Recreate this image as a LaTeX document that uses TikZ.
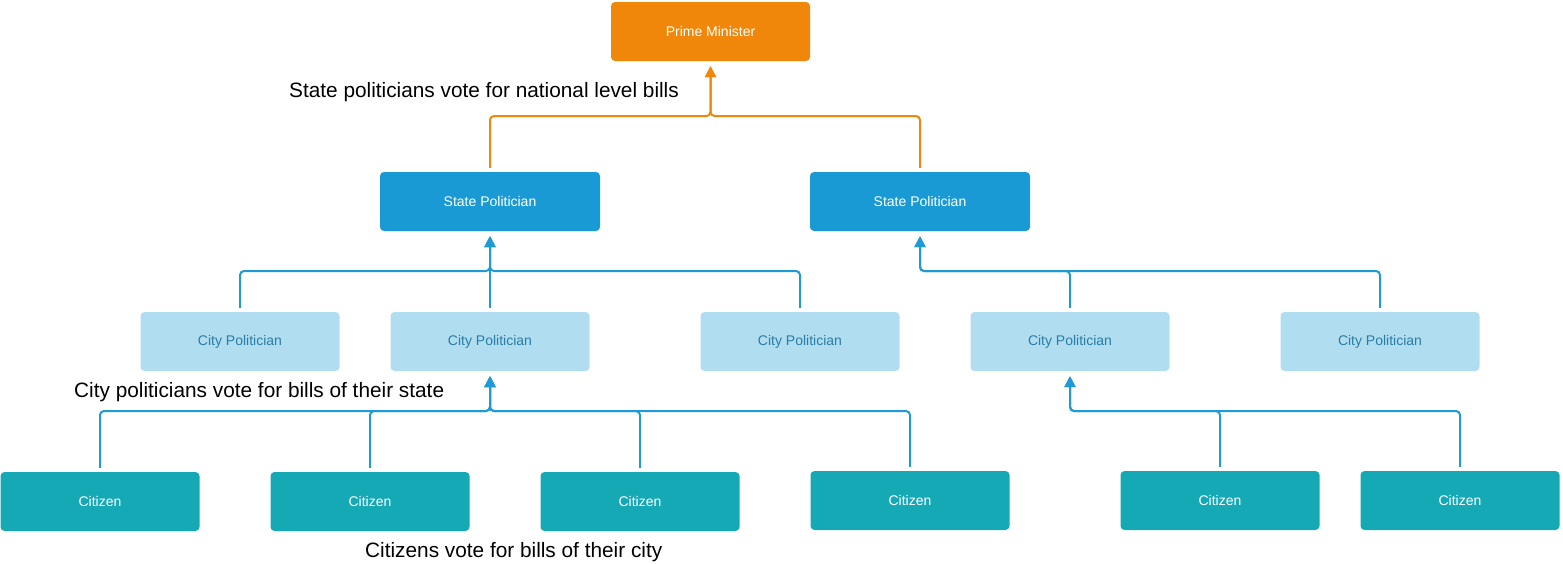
\documentclass[tikz,border=0pt]{standalone}
\usepackage{fontspec}
\setmainfont{Liberation Sans}
\usetikzlibrary{arrows.meta}
\definecolor{pmorange}{HTML}{F0870A}
\definecolor{stateblue}{HTML}{1A9AD4}
\definecolor{citylight}{HTML}{B0DDEF}
\definecolor{citytext}{HTML}{2A7DA6}
\definecolor{citizenteal}{HTML}{15A9B6}
\definecolor{linkblue}{HTML}{1E9AD6}
\tikzset{
  box/.style={rectangle, rounded corners=4pt, minimum width=199pt, minimum height=59pt, inner sep=0pt, font=\fontsize{14}{16}\selectfont},
  pmbox/.style={box, fill=pmorange, text=white},
  statebox/.style={box, fill=stateblue, text=white, minimum width=220pt},
  citybox/.style={box, fill=citylight, text=citytext},
  citizenbox/.style={box, fill=citizenteal, text=white},
  link/.style={line width=2pt, rounded corners=4pt, -{Triangle[length=11pt,width=11pt]}},
  note/.style={anchor=west, inner sep=0pt, font=\fontsize{20.8}{24}\selectfont}
}
\begin{document}
\begin{tikzpicture}[x=1pt,y=-1pt]  %1 unidade = 1 pixel
\useasboundingbox (0,0) rectangle (1563,563);
	%Caixas
	\node[pmbox] (pm) at (710.5,31.5) {Prime Minister};
	\node[statebox] (sp1) at (490,201.5) {State Politician};
	\node[statebox] (sp2) at (920,201.5) {State Politician};

	\node[citybox] (cp1) at (240,341.5) {City Politician};
	\node[citybox] (cp2) at (490,341.5) {City Politician};
	\node[citybox] (cp3) at (800,341.5) {City Politician};
	\node[citybox] (cp4) at (1070,341.5) {City Politician};
	\node[citybox] (cp5) at (1380,341.5) {City Politician};

	\node[citizenbox] (ct1) at (100,501.5) {Citizen};
	\node[citizenbox] (ct2) at (370,501.5) {Citizen};
	\node[citizenbox] (ct3) at (640,501.5) {Citizen};
	\node[citizenbox] (ct4) at (910,500.5) {Citizen};
	\node[citizenbox] (ct5) at (1220,500.5) {Citizen};
	\node[citizenbox] (ct6) at (1460,500.5) {Citizen};

	%Barramentos
	\coordinate (bpm) at (710.5,116);
	\coordinate (bsp1) at (490,271);
	\coordinate (bsp2) at (920,271);
	\coordinate (bcp2) at (490,411);
	\coordinate (bcp4) at (1070,411);

	%Ligacoes: estado -> primeiro ministro
	\draw[link, pmorange] ([yshift=4pt]sp1.north) |- (bpm) -- ([yshift=-5pt]pm.south);
	\draw[link, pmorange] ([yshift=4pt]sp2.north) |- (bpm) -- ([yshift=-5pt]pm.south);

	%Ligacoes: cidade -> estado
	\draw[link, linkblue] ([yshift=4pt]cp1.north) |- (bsp1) -- ([yshift=-5pt]sp1.south);
	\draw[link, linkblue] ([yshift=4pt]cp2.north) -- ([yshift=-5pt]sp1.south);
	\draw[link, linkblue] ([yshift=4pt]cp3.north) |- (bsp1) -- ([yshift=-5pt]sp1.south);
	\draw[link, linkblue] ([yshift=4pt]cp4.north) |- (bsp2) -- ([yshift=-5pt]sp2.south);
	\draw[link, linkblue] ([yshift=4pt]cp5.north) |- (bsp2) -- ([yshift=-5pt]sp2.south);

	%Ligacoes: cidadao -> cidade
	\draw[link, linkblue] ([yshift=4pt]ct1.north) |- (bcp2) -- ([yshift=-5pt]cp2.south);
	\draw[link, linkblue] ([yshift=4pt]ct2.north) |- (bcp2) -- ([yshift=-5pt]cp2.south);
	\draw[link, linkblue] ([yshift=4pt]ct3.north) |- (bcp2) -- ([yshift=-5pt]cp2.south);
	\draw[link, linkblue] ([yshift=4pt]ct4.north) |- (bcp2) -- ([yshift=-5pt]cp2.south);
	\draw[link, linkblue] ([yshift=4pt]ct5.north) |- (bcp4) -- ([yshift=-5pt]cp4.south);
	\draw[link, linkblue] ([yshift=4pt]ct6.north) |- (bcp4) -- ([yshift=-5pt]cp4.south);

	%Textos
	\node[note] (nstate) at (289,92) {State politicians vote for national level bills};
	\node[note] (ncity) at (74,392) {City politicians vote for bills of their state};
	\node[note] (ncitizen) at (365,552) {Citizens vote for bills of their city};
\end{tikzpicture}
\end{document}
